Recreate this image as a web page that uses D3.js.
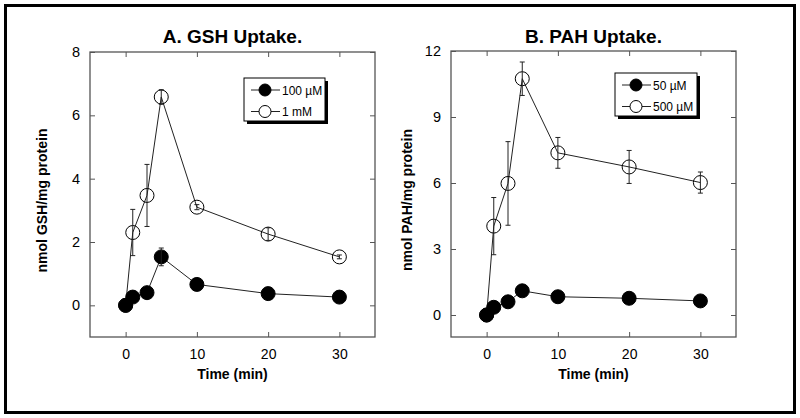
<!DOCTYPE html>
<html><head><meta charset="utf-8">
<script src="https://cdn.jsdelivr.net/npm/d3@7"></script>
<style>body{margin:0;background:#fff}svg{display:block;font-family:"Liberation Sans",Arial,sans-serif}</style>
</head><body>
<svg id="c" width="800" height="418"></svg>
<script>
const times = [0, 1, 3, 5, 10, 20, 30];
// Panel A: GSH
const gshLow = [0, 0.26, 0.4, 1.53, 0.66, 0.37, 0.26];
const gshLowErr = [0, 0, 0, 0.28, 0, 0, 0];
const gshHigh = [0, 2.3, 3.47, 6.58, 3.1, 2.25, 1.53];
const gshHighErr = [0, 0.73, 0.98, 0.23, 0.08, 0.2, 0.06];
// Panel B: PAH
const pahLow = [0, 0.35, 0.6, 1.1, 0.83, 0.76, 0.64];
const pahLowErr = [0, 0, 0, 0, 0, 0, 0];
const pahHigh = [0, 4.04, 5.98, 10.74, 7.37, 6.73, 6.02];
const pahHighErr = [0, 1.3, 1.9, 0.76, 0.7, 0.75, 0.48];
const xTicks = [0, 10, 20, 30];
const yTicksA = [0, 2, 4, 6, 8];
const yTicksB = [0, 3, 6, 9, 12];

const svg = d3.select("#c");
svg.append("rect").attr("x",5.5).attr("y",5.5).attr("width",789).attr("height",407)
  .attr("fill","none").attr("stroke","#000").attr("stroke-width",3);

function panel(o){
  const x = d3.scaleLinear().domain([-5,35]).range([o.left,o.right]);
  const y = d3.scaleLinear().domain(o.ydom).range([o.bottom,o.top]);
  const g = svg.append("g");
  const axColor = "#555";
  g.append("g").attr("transform",`translate(0,${o.bottom})`)
    .call(d3.axisBottom(x).tickValues(xTicks).tickSizeInner(-5).tickSizeOuter(0).tickPadding(12))
    .call(a=>{a.select(".domain").remove();a.selectAll("line").attr("stroke",axColor);
      a.selectAll("text").attr("font-size",14).attr("fill","#000").attr("font-family","Liberation Sans, Arial");});
  g.append("g").attr("transform",`translate(0,${o.top})`)
    .call(d3.axisTop(x).tickValues(xTicks).tickSizeInner(-5).tickSizeOuter(0).tickFormat(""))
    .call(a=>{a.select(".domain").remove();a.selectAll("line").attr("stroke",axColor);});
  g.append("g").attr("transform",`translate(${o.left},0)`)
    .call(d3.axisLeft(y).tickValues(o.yticks).tickSizeInner(-5).tickSizeOuter(0).tickPadding(10))
    .call(a=>{a.select(".domain").remove();a.selectAll("line").attr("stroke",axColor);
      a.selectAll("text").attr("font-size",14.5).attr("fill","#000").attr("font-family","Liberation Sans, Arial");});
  g.append("g").attr("transform",`translate(${o.right},0)`)
    .call(d3.axisRight(y).tickValues(o.yticks).tickSizeInner(-5).tickSizeOuter(0).tickFormat(""))
    .call(a=>{a.select(".domain").remove();a.selectAll("line").attr("stroke",axColor);});
  g.append("rect").attr("x",o.left).attr("y",o.top).attr("width",o.right-o.left).attr("height",o.bottom-o.top)
    .attr("fill","none").attr("stroke",axColor).attr("stroke-width",1.3);
  g.append("text").attr("x",(o.left+o.right)/2).attr("y",43).attr("text-anchor","middle")
    .attr("font-size",19).attr("font-weight","bold").text(o.title);
  g.append("text").attr("x",(o.left+o.right)/2).attr("y",379).attr("text-anchor","middle")
    .attr("font-size",14).attr("font-weight","bold").text("Time (min)");
  g.append("text").attr("transform",`translate(${o.ylx},${(o.top+o.bottom)/2+6}) rotate(-90)`)
    .attr("text-anchor","middle").attr("font-size",14).attr("font-weight","bold").text(o.ylabel);
  const line = d3.line().x((d,i)=>x(times[i])).y(d=>y(d));
  o.series.forEach(s=>{
    g.append("path").datum(s.vals).attr("d",line).attr("fill","none").attr("stroke","#222").attr("stroke-width",1);
  });
  o.series.forEach(s=>{
    const pts = s.vals.map((v,i)=>({t:times[i],v,e:s.err[i]}));
    g.selectAll(null).data(pts).enter().append("circle")
      .attr("cx",d=>x(d.t)).attr("cy",d=>y(d.v)).attr("r",7)
      .attr("fill",s.filled?"#000":"none").attr("stroke","#000").attr("stroke-width",1);
    const eb = pts.filter(d=>d.e>0);
    const eg = g.selectAll(null).data(eb).enter().append("g").attr("stroke","#222").attr("stroke-width",1);
    eg.append("line").attr("x1",d=>x(d.t)).attr("x2",d=>x(d.t)).attr("y1",d=>y(d.v-d.e)).attr("y2",d=>y(d.v+d.e));
    eg.append("line").attr("x1",d=>x(d.t)-2.5).attr("x2",d=>x(d.t)+2.5).attr("y1",d=>y(d.v-d.e)).attr("y2",d=>y(d.v-d.e));
    eg.append("line").attr("x1",d=>x(d.t)-2.5).attr("x2",d=>x(d.t)+2.5).attr("y1",d=>y(d.v+d.e)).attr("y2",d=>y(d.v+d.e));
  });
  const L = o.legend;
  g.append("rect").attr("x",L.x+3).attr("y",L.y+3).attr("width",L.w).attr("height",L.h).attr("fill","#000");
  g.append("rect").attr("x",L.x).attr("y",L.y).attr("width",L.w).attr("height",L.h).attr("fill","#fff").attr("stroke","#000");
  o.series.forEach((s,i)=>{
    const yy = L.y + 12 + i*21.5;
    g.append("line").attr("x1",L.x+7).attr("x2",L.x+36).attr("y1",yy).attr("y2",yy).attr("stroke","#222");
    g.append("circle").attr("cx",L.x+21).attr("cy",yy).attr("r",6).attr("fill",s.filled?"#000":"#fff").attr("stroke","#000");
    g.append("text").attr("x",L.x+38).attr("y",yy+4.5).attr("font-size",12).text(s.name);
  });
}

panel({left:90,right:375,top:52,bottom:337,ydom:[-1,8],yticks:yTicksA,title:"A. GSH Uptake.",
  ylabel:"nmol GSH/mg protein",ylx:47,
  legend:{x:244,y:78,w:81,h:43},
  series:[{name:"100 µM",vals:gshLow,err:gshLowErr,filled:true},{name:"1 mM",vals:gshHigh,err:gshHighErr,filled:false}]});
panel({left:451,right:736,top:51,bottom:337,ydom:[-1,12],yticks:yTicksB,title:"B. PAH Uptake.",
  ylabel:"nmol PAH/mg protein",ylx:412,
  legend:{x:615,y:73,w:82,h:43},
  series:[{name:"50 µM",vals:pahLow,err:pahLowErr,filled:true},{name:"500 µM",vals:pahHigh,err:pahHighErr,filled:false}]});
</script>
</body></html>
